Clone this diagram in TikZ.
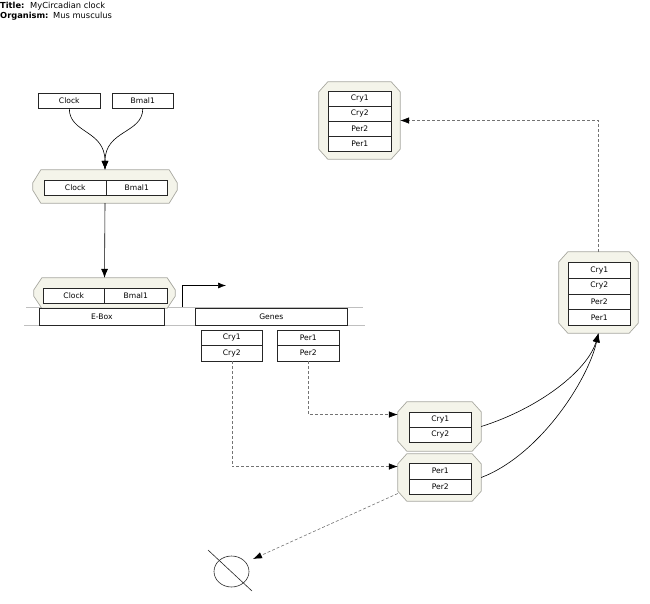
\documentclass[tikz,border=0pt]{standalone}
\usepackage{fontspec}
\setmainfont{DejaVu Sans}
\usetikzlibrary{arrows.meta,shapes.geometric}
\definecolor{cfill}{HTML}{F4F4EA}
\definecolor{cline}{HTML}{A8A8A0}
\tikzset{
  lbl/.style={font=\fontsize{7.6}{8}\selectfont},
  ttl/.style={font=\fontsize{8.3}{9}\selectfont, anchor=base west, inner sep=0},
  gbox/.style={draw=black!85, fill=white, line width=0.6pt, inner sep=0, anchor=north west, lbl},
  cplx/.style={inner sep=0},
  cplxline/.style={draw=cline, fill=cfill, line width=0.7pt},
  arr/.style={-{Latex[length=9pt,width=7pt]}, draw=black, line width=0.6pt},
  darr/.style={-{Latex[length=9pt,width=6.5pt,color=black]}, draw=black!55, line width=0.6pt, dash pattern=on 3pt off 2pt},
  dna/.style={draw=black!25, line width=1pt}
}
% \octa{name}{horizontal chamfer}{vertical chamfer}
\newcommand{\octa}[3]{%
  \draw[cplxline] ([xshift=#2pt]#1.north west) -- ([xshift=-#2pt]#1.north east)
    -- ([yshift=-#3pt]#1.north east) -- ([yshift=#3pt]#1.south east)
    -- ([xshift=-#2pt]#1.south east) -- ([xshift=#2pt]#1.south west)
    -- ([yshift=#3pt]#1.south west) -- ([yshift=-#3pt]#1.north west) -- cycle;}
\begin{document}
\begin{tikzpicture}[x=1pt,y=-1pt]
\useasboundingbox (0,0) rectangle (650,603);
% title
\node[ttl] (tl) at (0,8.5) {\textbf{Title:}};
\node[ttl] (tv) at (30,8.5) {MyCircadian clock};
\node[ttl] (ol) at (0,18.5) {\textbf{Organism:}};
\node[ttl] (ov) at (53,18.5) {Mus musculus};
% DNA lines
\coordinate (dnaA1) at (26,307.5); \coordinate (dnaA2) at (363,307.5);
\coordinate (dnaB1) at (24,325); \coordinate (dnaB2) at (365,325);
\draw[dna] (dnaA1) -- (dnaA2);
\draw[dna] (dnaB1) -- (dnaB2);
% complexes
\node[cplx, minimum width=144pt, minimum height=33pt] (c1) at (105,186.5) {};
\node[cplx, minimum width=141pt, minimum height=30pt] (c2) at (104.5,293) {};
\node[cplx, minimum width=81pt, minimum height=77pt] (top) at (359.5,120.5) {};
\node[cplx, minimum width=79pt, minimum height=81pt] (right) at (598.5,292.5) {};
\node[cplx, minimum width=83pt, minimum height=49pt] (cryC) at (439.5,426.5) {};
\node[cplx, minimum width=83pt, minimum height=47pt] (perC) at (439.5,477.5) {};
\octa{c1}{8}{13} \octa{c2}{8}{12} \octa{top}{9}{10} \octa{right}{9}{10} \octa{cryC}{9}{10} \octa{perC}{9}{10}
% free monomers
\node[gbox, minimum width=62pt, minimum height=15pt] (clockA) at (38,93) {Clock};
\node[gbox, minimum width=61pt, minimum height=15pt] (bmalA) at (112,93) {Bmal1};
% complex 1 content
\node[gbox, minimum width=62pt, minimum height=15pt] (clockB) at (44,180) {Clock};
\node[gbox, minimum width=61pt, minimum height=15pt] (bmalB) at (106,180) {Bmal1};
% complex 2 content
\node[gbox, minimum width=61pt, minimum height=15pt] (clockC) at (43,288) {Clock};
\node[gbox, minimum width=63pt, minimum height=15pt] (bmalC) at (104,288) {Bmal1};
% DNA boxes
\node[gbox, minimum width=125pt, minimum height=17pt] (ebox) at (39,308) {E-Box};
\node[gbox, minimum width=152pt, minimum height=17pt] (genes) at (195,308) {Genes};
% gene products
\node[gbox, minimum width=61pt, minimum height=15.5pt] (cry1g) at (201,329.5) {Cry1};
\node[gbox, minimum width=61pt, minimum height=15.5pt] (cry2g) at (201,345) {Cry2};
\node[gbox, minimum width=62pt, minimum height=15.5pt] (per1g) at (277,329.5) {Per1};
\node[gbox, minimum width=62pt, minimum height=15.5pt] (per2g) at (277,345) {Per2};
% cry complex
\node[gbox, minimum width=62pt, minimum height=15pt] (cryC1) at (409,412) {Cry1};
\node[gbox, minimum width=62pt, minimum height=15pt] (cryC2) at (409,427) {Cry2};
% per complex
\node[gbox, minimum width=62pt, minimum height=15.5pt] (perC1) at (409,463) {Per1};
\node[gbox, minimum width=62pt, minimum height=15.5pt] (perC2) at (409,478.5) {Per2};
% top complex
\node[gbox, minimum width=63pt, minimum height=15pt] (top1) at (328,91) {Cry1};
\node[gbox, minimum width=63pt, minimum height=15pt] (top2) at (328,106) {Cry2};
\node[gbox, minimum width=63pt, minimum height=15pt] (top3) at (328,121) {Per2};
\node[gbox, minimum width=63pt, minimum height=15pt] (top4) at (328,136) {Per1};
% right complex
\node[gbox, minimum width=62pt, minimum height=15.75pt] (r1) at (568,262) {Cry1};
\node[gbox, minimum width=62pt, minimum height=15.75pt] (r2) at (568,277.75) {Cry2};
\node[gbox, minimum width=62pt, minimum height=15.75pt] (r3) at (568,293.5) {Per2};
\node[gbox, minimum width=62pt, minimum height=15.75pt] (r4) at (568,309.25) {Per1};
% degradation symbol
\node[draw=black!85, line width=0.6pt, ellipse, minimum width=35pt, minimum height=31pt, inner sep=0] (deg) at (231.5,571.5) {};
\coordinate (degL1) at (208,550); \coordinate (degL2) at (252,591);
\draw[black!85, line width=0.6pt] (degL1) -- (degL2);
\coordinate (degIn) at (253,559);
% connectors
\draw[arr] (clockA.south) .. controls +(0,25) and +(0,-40) .. (c1.north);
\draw[arr] (bmalA.south) .. controls +(0,25) and +(0,-40) .. (c1.north);
\draw[arr] (c1.south) -- (c2.north);
\coordinate (tss) at (182,307); \coordinate (tssEnd) at (226,285.5);
\draw[-{Latex[length=8pt,width=6pt]}, line width=0.6pt] (tss) |- (tssEnd);
\draw[darr] (cry2g.south) |- ([yshift=11pt]perC.west);
\draw[darr] (per2g.south) |- ([yshift=12pt]cryC.west);
\draw[arr] (cryC.east) .. controls (540,408) and (588,370) .. (right.south);
\draw[arr] (perC.east) .. controls (540,455) and (588,380) .. (right.south);
\draw[darr] (right.north) |- (top.east);
\draw[darr] ([yshift=-16pt]perC.west) -- (degIn);
\end{tikzpicture}
\end{document}
